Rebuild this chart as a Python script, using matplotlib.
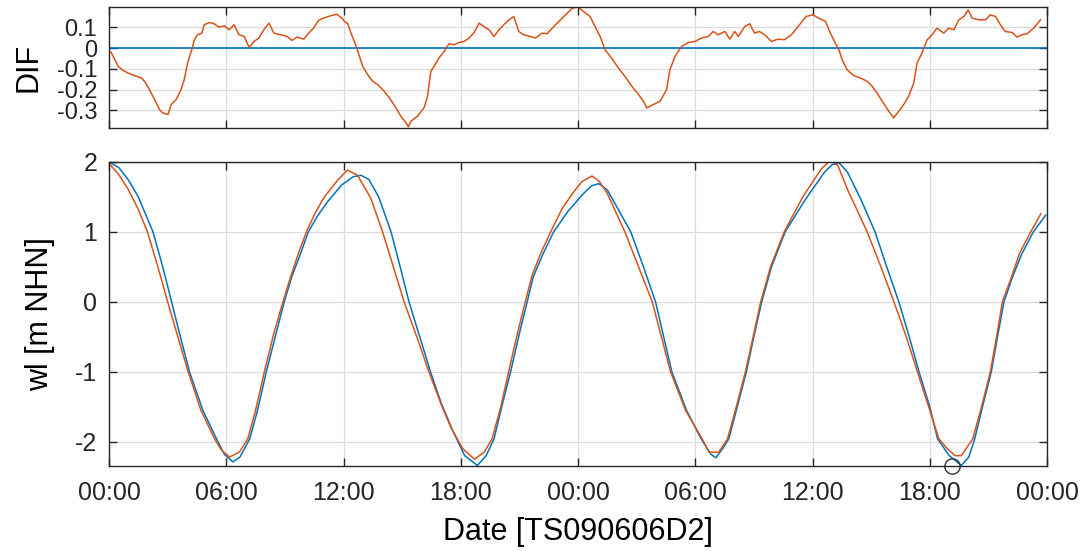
import numpy as np
import matplotlib.pyplot as plt
import matplotlib.dates as mdates

# series start, hours after this are used for every time array below
T0 = np.datetime64("2009-06-06T00:00")

# model minus observation (hours, metres)
dif_hours = [0.1, 0.3, 0.47, 0.73, 0.98, 1.32, 1.66, 1.83, 2.08, 2.34, 2.59, 2.76, 3.02, 3.19,
             3.44, 3.69, 3.86, 4.03, 4.24, 4.37, 4.54, 4.75, 4.88, 5.14, 5.39, 5.64, 5.9, 6.15,
             6.41, 6.66, 6.92, 7.17, 7.42, 7.68, 7.93, 8.19, 8.44, 8.78, 9.12, 9.37, 9.63, 9.97,
             10.22, 10.47, 10.73, 10.98, 11.32, 11.66, 11.92, 12.05, 12.22, 12.39, 12.65, 12.82,
             12.99, 13.24, 13.5, 13.75, 14.09, 14.35, 14.69, 14.94, 15.2, 15.32, 15.45, 15.79,
             16.13, 16.3, 16.47, 16.64, 16.9, 17.15, 17.41, 17.66, 17.92, 18.17, 18.43, 18.68,
             18.94, 19.19, 19.45, 19.7, 19.96, 20.21, 20.47, 20.72, 20.98, 21.23, 21.57, 21.83,
             22.17, 22.43, 22.77, 23.11, 23.45, 23.7, 23.95, 24.03, 24.29, 24.63, 24.88, 25.14,
             25.39, 25.73, 26.07, 26.41, 26.76, 27.1, 27.35, 27.52, 27.86, 28.2, 28.54, 28.71,
             28.97, 29.31, 29.65, 29.99, 30.33, 30.67, 30.92, 31.18, 31.52, 31.77, 32.03, 32.2,
             32.54, 32.79, 33.05, 33.3, 33.56, 33.9, 34.24, 34.58, 34.92, 35.34, 35.68, 36.02,
             36.32, 36.67, 36.92, 37.18, 37.35, 37.52, 37.77, 38.12, 38.46, 38.8, 39.05, 39.31,
             39.57, 39.91, 40.16, 40.42, 40.68, 40.93, 41.19, 41.36, 41.61, 41.87, 42.13, 42.38,
             42.72, 42.98, 43.24, 43.49, 43.75, 43.97, 44.18, 44.52, 44.86, 45.11, 45.37, 45.63,
             45.88, 46.22, 46.48, 46.73, 46.99, 47.33, 47.67]
dif_values = [-0.02, -0.056, -0.088, -0.107, -0.12, -0.133, -0.144, -0.16, -0.2, -0.248, -0.296,
              -0.312, -0.32, -0.272, -0.248, -0.2, -0.152, -0.072, -0.008, 0.04, 0.064, 0.072,
              0.112, 0.123, 0.117, 0.1, 0.107, 0.088, 0.112, 0.064, 0.056, 0.003, 0.032, 0.048,
              0.088, 0.12, 0.072, 0.064, 0.056, 0.037, 0.053, 0.043, 0.072, 0.096, 0.133, 0.144,
              0.155, 0.163, 0.144, 0.128, 0.117, 0.072, 0.008, -0.04, -0.088, -0.128, -0.16,
              -0.176, -0.208, -0.24, -0.288, -0.328, -0.36, -0.379, -0.352, -0.328, -0.288,
              -0.232, -0.112, -0.088, -0.048, -0.016, 0.021, 0.016, 0.027, 0.032, 0.048, 0.072,
              0.12, 0.104, 0.088, 0.056, 0.088, 0.112, 0.136, 0.152, 0.08, 0.064, 0.056, 0.048,
              0.072, 0.069, 0.104, 0.136, 0.168, 0.192, 0.197, 0.197, 0.176, 0.152, 0.104, 0.056,
              -0.008, -0.048, -0.096, -0.136, -0.184, -0.224, -0.256, -0.288, -0.272, -0.256,
              -0.2, -0.104, -0.04, 0.008, 0.027, 0.032, 0.048, 0.056, 0.08, 0.064, 0.08, 0.043,
              0.08, 0.056, 0.104, 0.117, 0.072, 0.08, 0.064, 0.032, 0.043, 0.04, 0.064, 0.112,
              0.152, 0.16, 0.144, 0.128, 0.072, 0.024, -0.008, -0.056, -0.104, -0.133, -0.144,
              -0.16, -0.184, -0.216, -0.256, -0.304, -0.336, -0.304, -0.272, -0.232, -0.168,
              -0.072, -0.024, 0.04, 0.064, 0.096, 0.072, 0.096, 0.088, 0.136, 0.152, 0.184,
              0.144, 0.136, 0.136, 0.16, 0.152, 0.112, 0.08, 0.075, 0.053, 0.064, 0.069, 0.096,
              0.136]

# observed water level
obs_hours = [0.0, 0.5, 1.0, 1.5, 2.26, 2.75, 3.2, 3.65, 4.13, 4.8, 5.5, 5.9, 6.34, 6.7, 7.2, 7.6,
             8.05, 8.55, 8.97, 9.35, 9.75, 10.2, 10.65, 11.15, 11.9, 12.5, 12.9, 13.3, 13.8,
             14.44, 14.9, 15.36, 15.9, 16.46, 17.0, 17.6, 18.2, 18.85, 19.3, 19.7, 20.1, 20.55,
             21.0, 21.4, 21.7, 22.2, 22.75, 23.5, 24.29, 24.7, 25.07, 25.5, 26.0, 26.7, 27.35,
             27.98, 28.8, 29.55, 30.3, 30.8, 31.05, 31.4, 31.72, 32.15, 32.62, 33.05, 33.4,
             33.9, 34.6, 35.6, 36.6, 37.0, 37.36, 37.8, 38.5, 39.2, 39.8, 40.43, 40.95, 41.45,
             42.0, 42.4, 43.0, 43.63, 44.0, 44.3, 44.7, 45.15, 45.5, 45.8, 46.2, 46.7, 47.3,
             47.94]
obs_wl = [2.0, 1.92, 1.74, 1.5, 1.0, 0.5, 0.0, -0.5, -1.0, -1.55, -1.96, -2.18, -2.29, -2.22,
          -1.96, -1.55, -1.0, -0.45, 0.0, 0.36, 0.65, 1.0, 1.22, 1.42, 1.67, 1.79, 1.81, 1.75,
          1.5, 1.0, 0.5, 0.0, -0.5, -1.0, -1.45, -1.85, -2.2, -2.34, -2.2, -1.96, -1.5, -1.0,
          -0.45, 0.0, 0.35, 0.68, 1.0, 1.3, 1.55, 1.66, 1.69, 1.6, 1.35, 1.0, 0.5, 0.0, -1.0,
          -1.55, -1.96, -2.18, -2.23, -2.1, -1.96, -1.5, -1.0, -0.45, 0.0, 0.5, 1.0, 1.45, 1.85,
          1.96, 1.99, 1.85, 1.45, 1.0, 0.5, 0.0, -0.5, -1.0, -1.5, -1.96, -2.2, -2.34, -2.22,
          -1.96, -1.5, -1.0, -0.45, 0.0, 0.33, 0.68, 1.0, 1.24]

# model water level
mod_hours = [0.0, 0.5, 1.0, 1.5, 1.97, 2.5, 3.01, 3.5, 4.05, 4.7, 5.41, 5.75, 6.17, 6.68, 7.1,
             7.5, 7.96, 8.45, 8.9, 9.32, 9.7, 10.1, 10.55, 11.02, 11.7, 12.21, 12.72, 13.4, 14.0,
             14.55, 15.1, 15.75, 16.38, 17.0, 17.5, 18.1, 18.7, 19.2, 19.6, 20.05, 20.46, 20.9,
             21.31, 21.65, 22.1, 22.6, 23.2, 23.8, 24.2, 24.73, 25.1, 25.5, 26.4, 27.1, 27.8,
             28.74, 29.5, 30.36, 30.7, 31.2, 31.65, 32.1, 32.58, 33.0, 33.35, 33.86, 34.55, 35.5,
             36.45, 36.9, 37.3, 37.8, 38.8, 39.5, 40.18, 40.8, 41.37, 42.0, 42.48, 42.9, 43.3,
             43.63, 44.2, 44.65, 45.1, 45.45, 45.73, 46.15, 46.6, 47.17, 47.69]
mod_wl = [1.98, 1.82, 1.6, 1.32, 1.0, 0.5, 0.0, -0.48, -1.0, -1.55, -1.96, -2.12, -2.22, -2.15,
          -1.96, -1.55, -1.0, -0.45, 0.0, 0.38, 0.7, 1.0, 1.27, 1.5, 1.74, 1.885, 1.81, 1.48,
          1.0, 0.5, 0.0, -0.5, -1.0, -1.47, -1.8, -2.1, -2.25, -2.15, -1.96, -1.5, -1.0, -0.45,
          0.0, 0.38, 0.7, 1.0, 1.34, 1.58, 1.72, 1.8, 1.72, 1.55, 1.0, 0.5, 0.0, -1.0, -1.55,
          -1.96, -2.15, -2.15, -1.96, -1.5, -1.0, -0.45, 0.0, 0.5, 1.0, 1.5, 1.9, 2.02, 1.95,
          1.6, 1.0, 0.5, 0.0, -0.5, -1.0, -1.55, -1.96, -2.1, -2.2, -2.2, -1.96, -1.5, -1.0,
          -0.45, 0.0, 0.33, 0.7, 1.0, 1.26]

# marked low water
mark_hour = 43.16
mark_wl = -2.35

dif_ticks = [-0.3, -0.2, -0.1, 0, 0.1]
wl_ticks = [-2, -1, 0, 1, 2]

C_BLUE = "#0072BD"
C_ORANGE = "#D95319"
C_AXIS = "#262626"


def to_time(hours):
    return T0 + (np.asarray(hours) * 60).astype("timedelta64[m]")


def style_axes(ax, size):
    ax.grid(True, color="#dcdcdc", linewidth=0.9)
    ax.set_axisbelow(True)
    for s in ax.spines.values():
        s.set_color(C_AXIS)
        s.set_linewidth(1.0)
    ax.tick_params(direction="in", length=6, width=1.0, colors=C_AXIS, labelcolor="#262626",
                   top=True, right=True, labelsize=size)
    ax.tick_params(axis="y", pad=8.5)
    ax.tick_params(axis="x", pad=11)
    ax.xaxis.set_major_locator(mdates.HourLocator(byhour=[0, 6, 12, 18]))
    ax.xaxis.set_major_formatter(mdates.DateFormatter("%H:%M"))
    ax.set_xlim(to_time(0), to_time(48))


plt.rcParams["font.family"] = ["Liberation Sans", "DejaVu Sans"]

fig = plt.figure(figsize=(10.86, 5.51), dpi=100)
ax1 = fig.add_axes([0.1004, 0.768, 0.8637, 0.219])
ax2 = fig.add_axes([0.1004, 0.154, 0.8637, 0.552])

# top: difference
ax1.axhline(0, color=C_BLUE, linewidth=1.2)
ax1.plot(to_time(dif_hours), dif_values, color=C_ORANGE, linewidth=1.1)
style_axes(ax1, 17)
ax1.set_ylim(-0.384, 0.197)
ax1.set_yticks(dif_ticks)
ax1.set_yticklabels(["%g" % v for v in dif_ticks])
ax1.tick_params(labelbottom=False)
ax1.set_ylabel("DIF", fontsize=22)
ax1.yaxis.set_label_coords(-0.070, 0.5)

# bottom: water levels
ax2.plot(to_time(obs_hours), obs_wl, color=C_BLUE, linewidth=1.1)
ax2.plot(to_time(mod_hours), mod_wl, color=C_ORANGE, linewidth=1.1)
ax2.plot(to_time([mark_hour]), [mark_wl], "o", markersize=11, markerfacecolor="none",
         markeredgecolor="#333333", markeredgewidth=1.0, clip_on=False)
style_axes(ax2, 18)
ax2.set_ylim(-2.35, 2.0)
ax2.set_yticks(wl_ticks)
ax2.set_yticklabels(["%d" % v for v in wl_ticks])
ax2.set_ylabel("wl [m NHN]", fontsize=22)
ax2.yaxis.set_label_coords(-0.058, 0.5)
ax2.set_xlabel("Date [TS090606D2]", fontsize=22, labelpad=8)

fig.savefig("out.png", dpi=100)
